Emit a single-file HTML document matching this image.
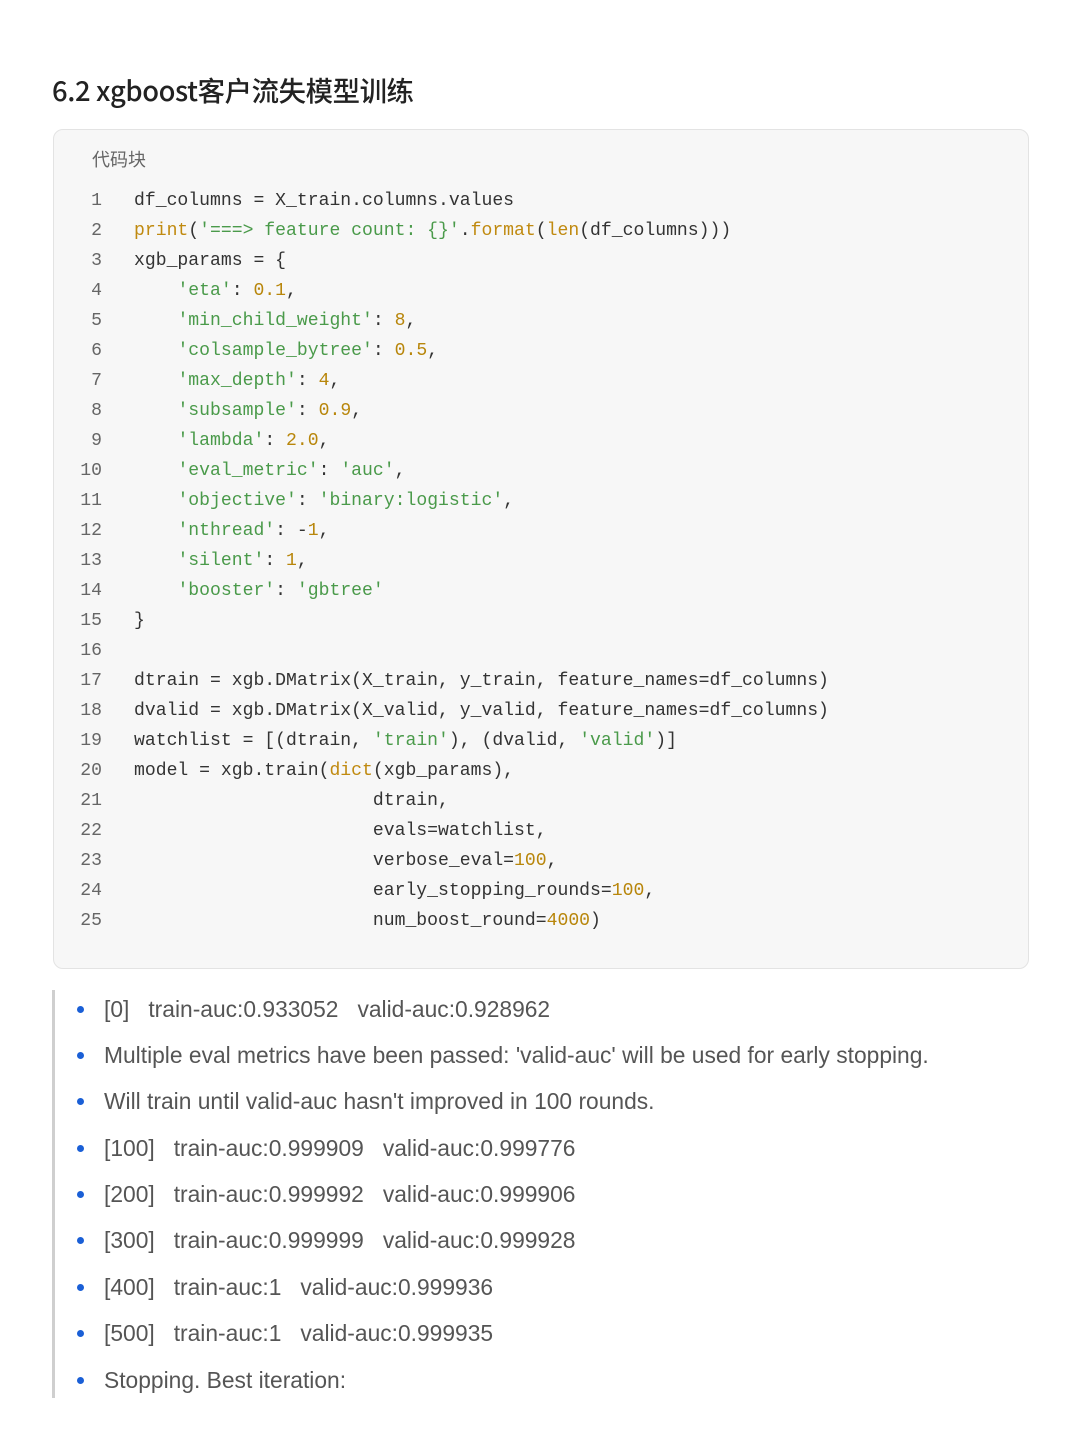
<!DOCTYPE html>
<html><head><meta charset="utf-8"><style>
body{margin:0;background:#fff;width:1080px;height:1440px;position:relative;font-family:"Liberation Sans","Noto Sans CJK SC",sans-serif;}
h1{position:absolute;left:52px;top:69px;margin:0;font-size:27.4px;font-weight:500;color:#222;font-family:"Noto Sans CJK SC","Liberation Sans",sans-serif;letter-spacing:-0.4px}
.box{position:absolute;left:53px;top:129px;width:976px;height:840px;background:#f7f7f7;border:1px solid #e3e3e3;border-radius:10px;box-sizing:border-box}
.lbl{position:absolute;left:92px;top:146px;font-size:18px;color:#666;font-family:"Noto Sans CJK SC",sans-serif}
.code{position:absolute;left:0;top:186px;font-family:"Liberation Mono",monospace;font-size:18.1px;color:#333}
.ln{position:absolute;height:30px;line-height:30px;white-space:pre}
.n{position:absolute;width:102px;text-align:right;color:#666;left:0}
.c{position:absolute;left:134px}
.k{color:#c08a10}.s{color:#4a9a4a}.m{color:#b8860b}
.bar{position:absolute;left:52px;top:990px;width:3px;height:408px;background:#cfcfcf}
.li{position:absolute;left:104px;font-size:22.8px;color:#555;white-space:pre;font-family:"Liberation Sans","Noto Sans CJK SC",sans-serif}
.dot{position:absolute;left:77px;width:7px;height:7px;border-radius:50%;background:#1a5fd6}
</style></head><body>
<h1>6.2 xgboost客户流失模型训练</h1>
<div class="box"></div>
<div class="lbl">代码块</div>
<div class="code">
<div class="ln" style="top:0"><span class="n">1</span><span class="c">df_columns = X_train.columns.values</span></div>
<div class="ln" style="top:30px"><span class="n">2</span><span class="c"><span class="k">print</span>(<span class="s">'===&gt; feature count: {}'</span>.<span class="k">format</span>(<span class="k">len</span>(df_columns)))</span></div>
<div class="ln" style="top:60px"><span class="n">3</span><span class="c">xgb_params = {</span></div>
<div class="ln" style="top:90px"><span class="n">4</span><span class="c">    <span class="s">'eta'</span>: <span class="m">0.1</span>,</span></div>
<div class="ln" style="top:120px"><span class="n">5</span><span class="c">    <span class="s">'min_child_weight'</span>: <span class="m">8</span>,</span></div>
<div class="ln" style="top:150px"><span class="n">6</span><span class="c">    <span class="s">'colsample_bytree'</span>: <span class="m">0.5</span>,</span></div>
<div class="ln" style="top:180px"><span class="n">7</span><span class="c">    <span class="s">'max_depth'</span>: <span class="m">4</span>,</span></div>
<div class="ln" style="top:210px"><span class="n">8</span><span class="c">    <span class="s">'subsample'</span>: <span class="m">0.9</span>,</span></div>
<div class="ln" style="top:240px"><span class="n">9</span><span class="c">    <span class="s">'lambda'</span>: <span class="m">2.0</span>,</span></div>
<div class="ln" style="top:270px"><span class="n">10</span><span class="c">    <span class="s">'eval_metric'</span>: <span class="s">'auc'</span>,</span></div>
<div class="ln" style="top:300px"><span class="n">11</span><span class="c">    <span class="s">'objective'</span>: <span class="s">'binary:logistic'</span>,</span></div>
<div class="ln" style="top:330px"><span class="n">12</span><span class="c">    <span class="s">'nthread'</span>: -<span class="m">1</span>,</span></div>
<div class="ln" style="top:360px"><span class="n">13</span><span class="c">    <span class="s">'silent'</span>: <span class="m">1</span>,</span></div>
<div class="ln" style="top:390px"><span class="n">14</span><span class="c">    <span class="s">'booster'</span>: <span class="s">'gbtree'</span></span></div>
<div class="ln" style="top:420px"><span class="n">15</span><span class="c">}</span></div>
<div class="ln" style="top:450px"><span class="n">16</span><span class="c"></span></div>
<div class="ln" style="top:480px"><span class="n">17</span><span class="c">dtrain = xgb.DMatrix(X_train, y_train, feature_names=df_columns)</span></div>
<div class="ln" style="top:510px"><span class="n">18</span><span class="c">dvalid = xgb.DMatrix(X_valid, y_valid, feature_names=df_columns)</span></div>
<div class="ln" style="top:540px"><span class="n">19</span><span class="c">watchlist = [(dtrain, <span class="s">'train'</span>), (dvalid, <span class="s">'valid'</span>)]</span></div>
<div class="ln" style="top:570px"><span class="n">20</span><span class="c">model = xgb.train(<span class="k">dict</span>(xgb_params),</span></div>
<div class="ln" style="top:600px"><span class="n">21</span><span class="c">                      dtrain,</span></div>
<div class="ln" style="top:630px"><span class="n">22</span><span class="c">                      evals=watchlist,</span></div>
<div class="ln" style="top:660px"><span class="n">23</span><span class="c">                      verbose_eval=<span class="m">100</span>,</span></div>
<div class="ln" style="top:690px"><span class="n">24</span><span class="c">                      early_stopping_rounds=<span class="m">100</span>,</span></div>
<div class="ln" style="top:720px"><span class="n">25</span><span class="c">                      num_boost_round=<span class="m">4000</span>)</span></div>
</div>
<div class="bar"></div>
<div class="dot" style="top:1006px"></div><div class="li" style="top:996px">[0]   train-auc:0.933052   valid-auc:0.928962</div>
<div class="dot" style="top:1052px"></div><div class="li" style="top:1042px">Multiple eval metrics have been passed: 'valid-auc' will be used for early stopping.</div>
<div class="dot" style="top:1098px"></div><div class="li" style="top:1088px">Will train until valid-auc hasn't improved in 100 rounds.</div>
<div class="dot" style="top:1145px"></div><div class="li" style="top:1135px">[100]   train-auc:0.999909   valid-auc:0.999776</div>
<div class="dot" style="top:1191px"></div><div class="li" style="top:1181px">[200]   train-auc:0.999992   valid-auc:0.999906</div>
<div class="dot" style="top:1237px"></div><div class="li" style="top:1227px">[300]   train-auc:0.999999   valid-auc:0.999928</div>
<div class="dot" style="top:1284px"></div><div class="li" style="top:1274px">[400]   train-auc:1   valid-auc:0.999936</div>
<div class="dot" style="top:1330px"></div><div class="li" style="top:1320px">[500]   train-auc:1   valid-auc:0.999935</div>
<div class="dot" style="top:1377px"></div><div class="li" style="top:1367px">Stopping. Best iteration:</div>
</body></html>
